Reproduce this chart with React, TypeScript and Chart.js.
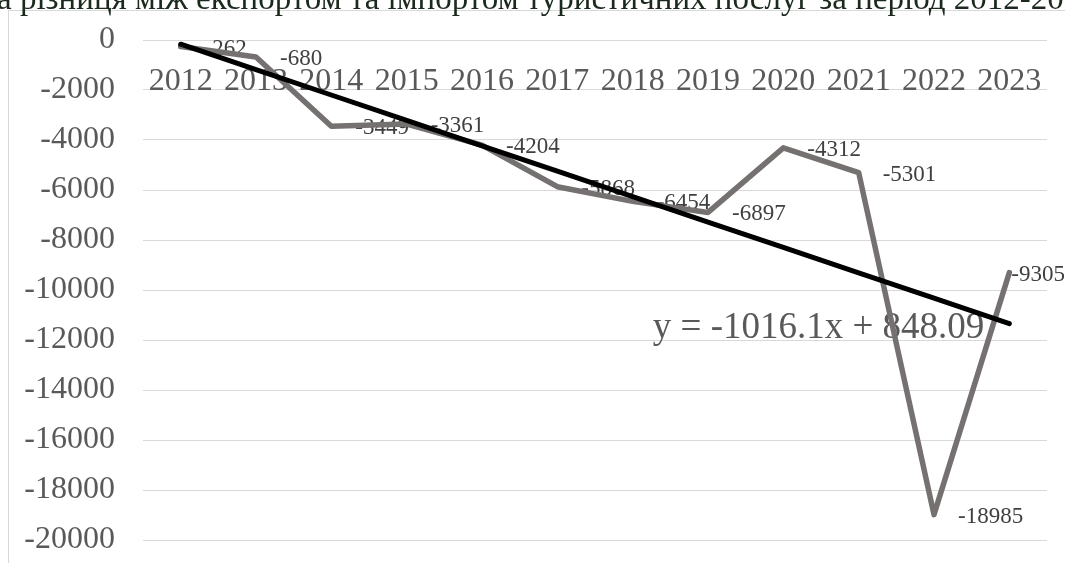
import { useEffect, useRef } from 'react';
import { Chart, registerables } from 'chart.js';

Chart.register(...registerables);

// Annual balance of tourism services trade (export minus import)
const YEARS = ['2012', '2013', '2014', '2015', '2016', '2017', '2018', '2019', '2020', '2021', '2022', '2023'];
const BALANCE = [-262, -680, -3449, -3361, -4204, -5868, -6454, -6897, -4312, -5301, -18985, -9305];

// Linear trendline as printed on the chart: y = -1016.1x + 848.09 (x = 1..12)
const TREND_SLOPE = -1016.1;
const TREND_INTERCEPT = 848.09;
const EQUATION = 'y = -1016.1x + 848.09';

const Y_MIN = -20000;
const Y_MAX = 0;
const Y_STEP = 2000;

const TITLE = 'а різниця між експортом та імпортом туристичних послуг за період 2012-2023';

const SERIF = '"Liberation Serif", "Times New Roman", serif';

const framePlugin = {
  id: 'frameAndTitle',
  beforeDraw(chart: any) {
    const { ctx, width, height } = chart;
    ctx.save();
    ctx.fillStyle = '#ffffff';
    ctx.fillRect(0, 0, width, height);
    ctx.strokeStyle = '#d9d9d9';
    ctx.lineWidth = 1;
    ctx.strokeRect(8.5, 10.5, width + 20, height + 20);
    ctx.fillStyle = '#1b2a1d';
    ctx.font = `33px ${SERIF}`;
    ctx.textAlign = 'left';
    ctx.textBaseline = 'alphabetic';
    ctx.fillText(TITLE, -3, 9);
    ctx.restore();
  },
};

const labelPlugin = {
  id: 'valueLabels',
  beforeDatasetsDraw(chart: any) {
    const { ctx, scales } = chart;
    const meta = chart.getDatasetMeta(1);
    ctx.save();
    ctx.fillStyle = '#404040';
    ctx.font = `23px ${SERIF}`;
    ctx.textAlign = 'left';
    ctx.textBaseline = 'middle';
    meta.data.forEach((pt: any, i: number) => {
      const text = String(BALANCE[i]);
      const w = ctx.measureText(text).width;
      let x = pt.x + 24;
      if (x + w > chart.width) x = chart.width - w;
      ctx.fillText(text, x, pt.y + 2);
    });
    // trendline equation
    ctx.fillStyle = '#595959';
    ctx.font = `37px ${SERIF}`;
    ctx.textAlign = 'right';
    ctx.textBaseline = 'alphabetic';
    const ex = scales.x.getPixelForValue(YEARS.length - 1) - 25;
    const ey = scales.y.getPixelForValue(-11900);
    ctx.fillText(EQUATION, ex, ey);
    ctx.restore();
  },
};

export default function App() {
  const canvasRef = useRef<HTMLCanvasElement>(null);

  useEffect(() => {
    const canvas = canvasRef.current;
    if (!canvas) return;
    const trend = YEARS.map((_, i) => TREND_SLOPE * (i + 1) + TREND_INTERCEPT);
    const chart = new Chart(canvas, {
      type: 'line',
      data: {
        labels: YEARS,
        datasets: [
          {
            label: 'Лінійна',
            data: trend,
            borderColor: '#000000',
            borderWidth: 5,
            borderCapStyle: 'round',
            pointRadius: 0,
            tension: 0,
            order: 0,
          },
          {
            label: 'Сальдо',
            data: BALANCE,
            borderColor: '#767171',
            borderWidth: 5.5,
            borderCapStyle: 'round',
            borderJoinStyle: 'round',
            pointRadius: 0,
            tension: 0,
            order: 1,
          },
        ],
      },
      options: {
        responsive: false,
        animation: false,
        events: [],
        layout: { padding: { left: 0, top: 40, right: 18, bottom: 23 } },
        plugins: {
          legend: { display: false },
          tooltip: { enabled: false },
          title: { display: false },
        },
        scales: {
          x: {
            type: 'category',
            offset: true,
            position: { y: 0 },
            grid: { display: false, drawTicks: false },
            border: { display: false },
            afterFit: (scale: any) => {
              scale.height = 0;
              scale.paddingLeft = 0;
              scale.paddingRight = 0;
              scale.paddingTop = 0;
              scale.paddingBottom = 0;
            },
            ticks: {
              autoSkip: false,
              maxRotation: 0,
              minRotation: 0,
              padding: 22,
              color: '#595959',
              font: { family: SERIF, size: 32 },
            },
          },
          y: {
            min: Y_MIN,
            max: Y_MAX,
            grid: { color: '#d9d9d9', lineWidth: 1, drawTicks: false },
            border: { display: false },
            afterFit: (scale: any) => {
              scale.width = 143;
              scale.paddingTop = 0;
              scale.paddingBottom = 0;
            },
            ticks: {
              stepSize: Y_STEP,
              padding: 28,
              color: '#595959',
              font: { family: SERIF, size: 32 },
              callback: (v: any) => String(v),
            },
          },
        },
      },
      plugins: [framePlugin, labelPlugin],
    });
    return () => chart.destroy();
  }, []);

  return (
    <div style={{ position: 'absolute', left: 0, top: 0, width: 1065, height: 563, overflow: 'hidden' }}>
      <canvas ref={canvasRef} width={1065} height={563} style={{ display: 'block' }} />
    </div>
  );
}
